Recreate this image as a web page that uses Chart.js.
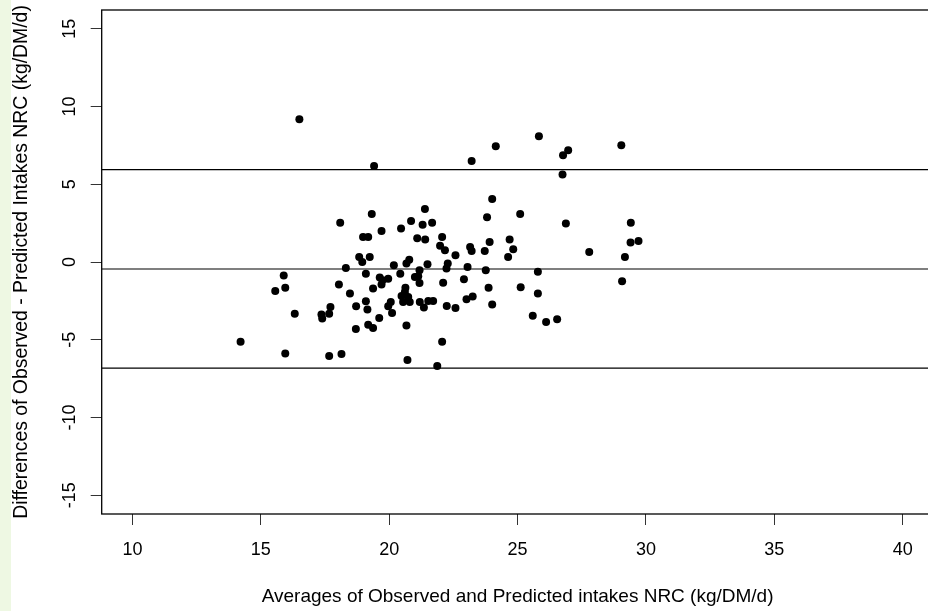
<!DOCTYPE html>
<html>
<head>
<meta charset="utf-8">
<script src="https://cdn.jsdelivr.net/npm/chart.js@4.4.1/dist/chart.umd.min.js"></script>
<style>
  html, body { margin: 0; padding: 0; background: #fff; overflow: hidden; }
  #wrap { position: relative; width: 928px; height: 611px; overflow: hidden; }
  #strip { position: absolute; left: 0; top: 0; width: 11px; height: 611px; background: #eef8e3; }
  canvas { position: absolute; left: 0; top: 0; }
</style>
</head>
<body>
<div id="wrap">
  <div id="strip"></div>
  <canvas id="chart" width="940" height="611"></canvas>
</div>
<script>
// averages of observed and predicted intakes (x) and their differences (y)
const averages = [
  16.50, 19.41, 23.21, 24.15, 24.01, 21.39, 19.32, 18.09, 20.85, 20.46,
  21.30, 21.67, 19.70, 18.98, 19.18, 21.09, 21.40, 22.06, 21.98, 22.17,
  22.58, 23.15, 23.21, 23.81, 23.91, 23.72, 23.76, 23.87, 23.05, 22.91,
  22.10, 22.28, 22.23, 21.49, 20.78, 20.67, 20.18, 20.43, 19.09, 18.83,
  18.95, 19.24, 18.31, 15.89, 15.56, 15.95, 19.63, 19.74, 19.96, 19.70,
  19.37, 18.04, 18.47, 21.18, 21.13, 21.00, 21.18, 20.63, 20.61, 20.48,
  20.74, 20.54, 20.80, 21.19, 21.35, 21.52, 21.71, 23.01, 23.25, 22.24,
  22.58, 24.01, 20.06, 19.96, 20.11, 19.09, 19.15, 18.71, 19.61, 19.18,
  19.37, 18.70, 17.71, 17.66, 17.36, 17.39, 16.32, 20.67, 14.21, 15.95,
  17.66, 18.14, 20.71, 22.06, 21.87, 25.83, 26.77, 26.97, 29.04, 26.75,
  25.10, 26.88, 29.41, 29.40, 29.71, 29.18, 27.79, 29.07, 24.69, 24.83,
  24.63, 25.12, 25.79, 25.79, 25.59, 26.11, 26.54
];
const differences = [
   9.18,  6.17,  6.50,  7.44,  4.05,  3.41,  3.09,  2.53,  2.64,  2.15,
   2.40,  2.53,  1.99,  1.61,  1.61,  1.52,  1.44,  1.61,  1.05,  0.75,
   0.43,  0.96,  0.71,  2.87,  1.29,  0.71, -0.53, -1.65, -0.32, -1.11,
  -1.33, -0.10, -0.42, -0.15,  0.15, -0.10, -0.21, -0.75, -0.75,  0.32,
   0.00,  0.32, -0.39, -0.86, -1.86, -1.65, -1.00, -1.18, -1.07, -1.45,
  -1.71, -1.45, -2.03, -0.53, -0.92, -0.96, -1.35, -1.65, -1.93, -2.19,
  -2.25, -2.57, -2.57, -2.57, -2.93, -2.51, -2.51, -2.40, -2.21, -2.83,
  -2.96, -2.74, -2.57, -2.85, -3.28, -2.53, -3.06, -2.85, -3.60, -4.03,
  -4.24, -4.31, -2.89, -3.32, -3.38, -3.64, -3.32, -4.09, -5.12, -5.89,
  -6.05, -5.92, -6.30, -5.12, -6.69,  8.08,  6.86,  7.18,  7.50,  5.62,
   3.09,  2.47,  2.53,  1.25,  1.35,  0.32,  0.64, -1.24,  1.44,  0.82,
   0.32, -1.63, -0.62, -2.03, -3.45, -3.86, -3.68
];

// mean difference and limits of agreement
const meanDiff = -0.45;
const upperLimit = 5.94;
const lowerLimit = -6.82;

const xTicks = [10, 15, 20, 25, 30, 35, 40];
const yTicks = [-15, -10, -5, 0, 5, 10, 15];
const xLimits = [8.8, 41.2];
const yLimits = [-16.2, 16.2];

const fontFamily = "'Liberation Sans', Arial, sans-serif";

function hline(value) {
  return {
    type: 'line',
    data: [{ x: xLimits[0], y: value }, { x: xLimits[1], y: value }],
    borderColor: '#000',
    borderWidth: 1.2,
    pointRadius: 0,
    fill: false
  };
}

// R style box round the plot region
const boxPlugin = {
  id: 'box',
  afterDatasetsDraw(chart) {
    const { ctx, chartArea } = chart;
    ctx.save();
    ctx.strokeStyle = '#000';
    ctx.lineWidth = 1.3;
    ctx.strokeRect(chartArea.left, chartArea.top,
      chartArea.right - chartArea.left, chartArea.bottom - chartArea.top);
    ctx.restore();
  }
};

const ctx = document.getElementById('chart').getContext('2d');
new Chart(ctx, {
  type: 'scatter',
  data: {
    datasets: [
      {
        data: averages.map((x, i) => ({ x: x, y: differences[i] })),
        pointRadius: 4,
        pointHoverRadius: 4,
        pointBackgroundColor: '#000',
        pointBorderWidth: 0,
        borderWidth: 0
      },
      hline(upperLimit),
      hline(meanDiff),
      hline(lowerLimit)
    ]
  },
  options: {
    responsive: false,
    animation: false,
    devicePixelRatio: 1,
    layout: { padding: { top: 10, right: 6.5, left: 0, bottom: 0 } },
    plugins: { legend: { display: false }, tooltip: { enabled: false } },
    scales: {
      x: {
        type: 'linear',
        min: xLimits[0],
        max: xLimits[1],
        afterBuildTicks: (s) => { s.ticks = xTicks.map(v => ({ value: v })); },
        afterFit: (s) => { s.height = 97; s.paddingLeft = 0; s.paddingRight = 0; },
        grid: { drawOnChartArea: false, drawTicks: true, tickLength: 11, color: '#333' },
        border: { display: false },
        ticks: {
          color: '#000', autoSkip: false, maxRotation: 0, padding: 14,
          font: { family: fontFamily, size: 18 }
        },
        title: {
          display: true,
          text: 'Averages of Observed and Predicted intakes NRC (kg/DM/d)',
          color: '#000',
          font: { family: fontFamily, size: 19 },
          padding: { top: 0, bottom: 3 }
        }
      },
      y: {
        type: 'linear',
        min: yLimits[0],
        max: yLimits[1],
        afterBuildTicks: (s) => { s.ticks = yTicks.map(v => ({ value: v })); },
        afterFit: (s) => { s.width = 101.7; s.paddingTop = 0; s.paddingBottom = 0; },
        grid: { drawOnChartArea: false, drawTicks: true, tickLength: 11, color: '#333' },
        border: { display: false },
        ticks: {
          color: '#000', autoSkip: false, minRotation: 90, maxRotation: 90,
          crossAlign: 'center', padding: 8,
          font: { family: fontFamily, size: 18 }
        },
        title: {
          display: true,
          text: 'Differences of Observed - Predicted Intakes NRC (kg/DM/d)',
          color: '#000',
          font: { family: fontFamily, size: 19.4 },
          padding: { top: 10, bottom: 0 }
        }
      }
    }
  },
  plugins: [boxPlugin]
});
</script>
</body>
</html>
